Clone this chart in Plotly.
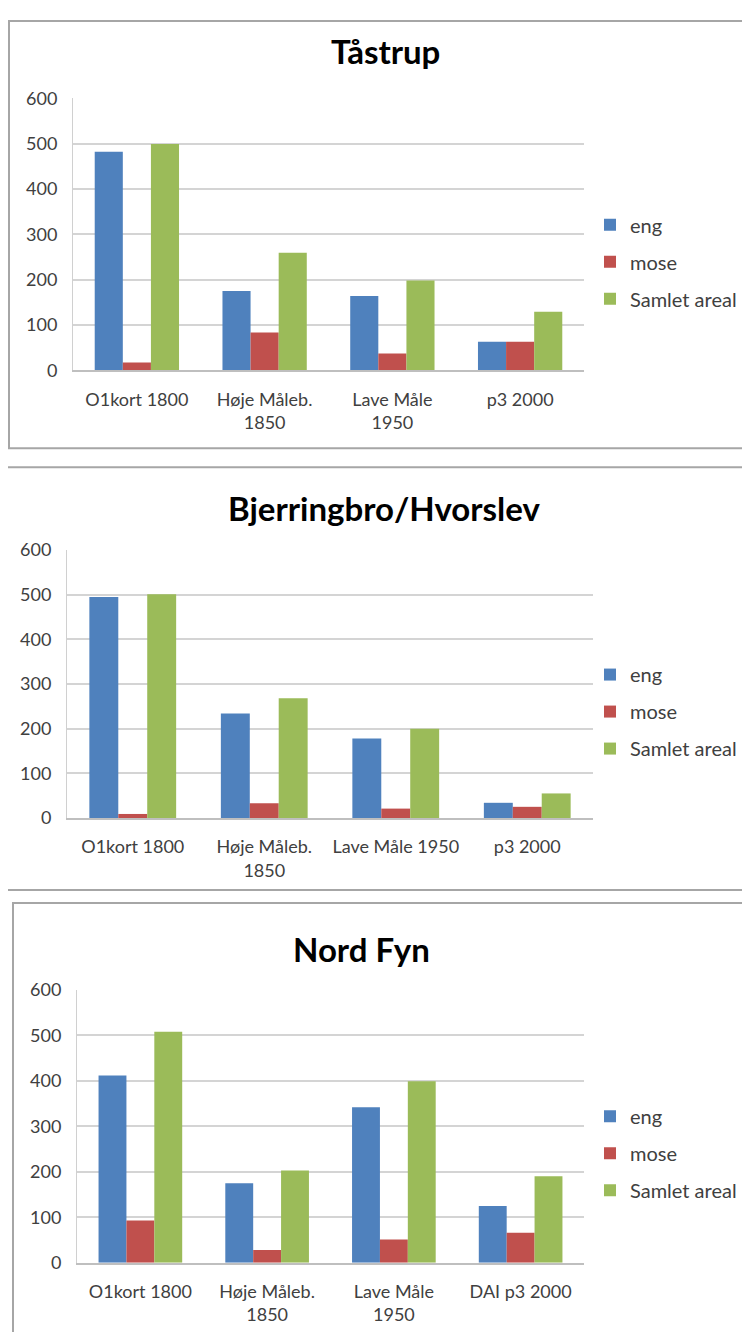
import plotly.graph_objects as go

W, H = 750, 1332

# categories per panel
cats_taastrup = ["O1kort 1800", "Høje Måleb.<br>1850", "Lave Måle<br>1950", "p3 2000"]
cats_bjerring = ["O1kort 1800", "Høje Måleb.<br>1850", "Lave Måle 1950", "p3 2000"]
cats_nordfyn = ["O1kort 1800", "Høje Måleb.<br>1850", "Lave Måle<br>1950", "DAI p3 2000"]

# values
taastrup_eng = [482, 175, 164, 63]
taastrup_mose = [17, 83, 37, 63]
taastrup_samlet = [499, 259, 198, 129]

bjerring_eng = [495, 234, 178, 34]
bjerring_mose = [9, 33, 21, 25]
bjerring_samlet = [501, 268, 200, 55]

nordfyn_eng = [412, 175, 342, 125]
nordfyn_mose = [93, 28, 51, 66]
nordfyn_samlet = [508, 203, 399, 190]

series_names = ["eng", "mose", "Samlet areal"]
colors = ["#4F81BD", "#C0504D", "#9BBB59"]

FONT = "Lato, 'Open Sans', sans-serif"


# page offset of the rendered figure (measured)
def px_x(x):
    return (x - 8) / W


def px_y(y):
    yy = (y - 18.6) / 0.984
    return 1 - min(max(yy, 1), H + 60) / H


# each panel: title, categories, series, plot box, border, legend top, title pos (screen px)
panels = [
    dict(title="Tåstrup", cats=cats_taastrup,
         vals=[taastrup_eng, taastrup_mose, taastrup_samlet],
         plot=(73, 584, 97, 369), border=(9, 770, 10, 447),
         title_xy=(385, 50), legend_y=204),
    dict(title="Bjerringbro/Hvorslev", cats=cats_bjerring,
         vals=[bjerring_eng, bjerring_mose, bjerring_samlet],
         plot=(67, 593, 549, 817), border=(7, 770, 466, 889),
         title_xy=(384, 507), legend_y=654),
    dict(title="Nord Fyn", cats=cats_nordfyn,
         vals=[nordfyn_eng, nordfyn_mose, nordfyn_samlet],
         plot=(77, 584, 989, 1262), border=(13, 770, 902, 1420),
         title_xy=(361, 948), legend_y=1096),
]

fig = go.Figure()
shapes = []
annotations = []
layout = {}

for i, p in enumerate(panels):
    n = "" if i == 0 else str(i + 1)
    leg = "legend" if i == 0 else f"legend{i + 1}"
    for name, vals, col in zip(series_names, p["vals"], colors):
        fig.add_trace(go.Bar(
            x=p["cats"], y=vals, name=name, marker_color=col,
            marker_line_width=0, xaxis=f"x{n}", yaxis=f"y{n}",
            legend=leg, legendgroup=f"{leg}_{name}",
        ))
    x0, x1, y0, y1 = p["plot"]
    layout[f"xaxis{n}"] = dict(
        domain=[px_x(x0), px_x(x1)], anchor=f"y{n}",
        showgrid=False, showline=True, linecolor="#bfbfbf", linewidth=1.5,
        ticks="", ticklabelstandoff=12,
        tickfont=dict(family=FONT, size=18, color="#404040"),
        fixedrange=True,
    )
    layout[f"yaxis{n}"] = dict(
        domain=[px_y(y1), px_y(y0)], anchor=f"x{n}",
        range=[0, 600], dtick=100, showgrid=True, gridcolor="#d4d4d4",
        gridwidth=1.5, zeroline=False, showline=True, linecolor="#d0d0d0",
        linewidth=1, ticks="", ticklabelstandoff=11,
        tickfont=dict(family=FONT, size=18, color="#404040"),
    )
    layout[leg] = dict(
        x=px_x(590), y=px_y(p["legend_y"]), xanchor="left", yanchor="top",
        font=dict(family=FONT, size=20, color="#404040"),
        tracegroupgap=8, itemwidth=30, bgcolor="rgba(0,0,0,0)",
    )
    bx0, bx1, by0, by1 = p["border"]
    shapes.append(dict(
        type="rect", xref="paper", yref="paper",
        x0=px_x(bx0), x1=px_x(bx1), y0=px_y(by1), y1=px_y(by0),
        line=dict(color="#a6a6a6", width=2), fillcolor="rgba(0,0,0,0)",
        layer="below",
    ))
    tx, ty = p["title_xy"]
    annotations.append(dict(
        text=f"<b>{p['title']}</b>", x=px_x(tx), y=px_y(ty),
        xref="paper", yref="paper", showarrow=False,
        xanchor="center", yanchor="middle",
        font=dict(family=FONT, size=33, color="#000000"),
    ))

fig.update_layout(
    width=W, height=H,
    margin=dict(l=0, r=0, t=0, b=0),
    paper_bgcolor="white", plot_bgcolor="white",
    barmode="group", bargap=0.34, bargroupgap=0,
    shapes=shapes, annotations=annotations,
    **layout,
)

fig.write_html("out.html")
